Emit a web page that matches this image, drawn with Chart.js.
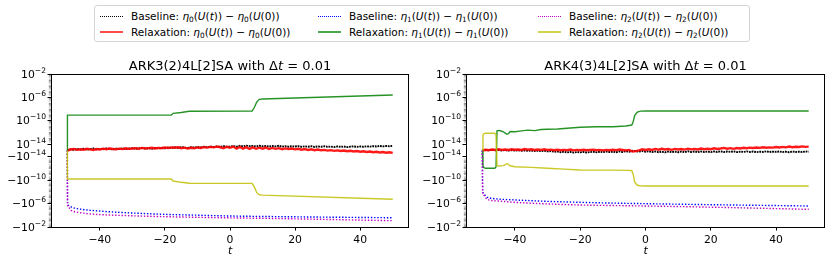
<!DOCTYPE html>
<html>
<head>
<meta charset="utf-8">
<script src="https://cdn.jsdelivr.net/npm/chart.js@4.4.1/dist/chart.umd.min.js"></script>
<style>
  body { margin: 0; background: #fff; }
  #fig { position: relative; width: 831px; height: 263px; overflow: hidden; font-family: "DejaVu Sans", sans-serif; }
  #left { position: absolute; left: 0; top: 0; }
  #right { position: absolute; left: 415px; top: 0; }
  #legend { position: absolute; left: 94px; top: 5px; width: 654px; height: 35px; border: 1px solid #d4d4d4; border-radius: 3px; background: #fff; font-size: 10.5px; color: #000; z-index: 2; }
  .item { position: absolute; white-space: nowrap; height: 14px; line-height: 14px; }
  .sw { display: inline-block; width: 23px; height: 0; vertical-align: middle; margin-right: 8px; position: relative; top: -1px; }
  i { font-style: italic; }
  sub { font-size: 0.7em; line-height: 0; vertical-align: -0.25em; }
</style>
</head>
<body>
<div id="fig">
  <div id="legend"></div>
  <canvas id="left" width="415" height="263"></canvas>
  <canvas id="right" width="416" height="263"></canvas>
</div>
<script>
// ---- data ----
// noisy series are sampled at t = -50..50 (step 1), values in units of 1e-15
const tNoise = Array.from({ length: 101 }, (_, i) => i - 50);

const leftBase0 = [0,
  2.0, 1.2, 2.5, 1.6, 2.8, 1.4, 2.2, 3.0, 1.8, 2.6,
  2.0, 3.1, 2.3, 1.7, 2.9, 2.4, 3.3, 2.1, 2.8, 3.5,
  2.6, 3.2, 4.0, 2.9, 3.6, 2.7, 3.9, 3.3, 4.2, 3.4,
  4.5, 3.8, 4.9, 4.1, 5.2, 4.4, 3.9, 5.0, 4.6, 5.5,
  4.8, 5.8, 5.1, 6.0, 5.4, 6.3, 5.6, 6.6, 5.9, 6.2,
  6.8, 5.9, 7.2, 6.4, 7.5, 6.7, 7.0, 6.2, 7.3, 6.6,
  7.0, 6.1, 6.9, 6.4, 7.2, 6.0, 6.7, 5.8, 6.5, 6.1,
  6.8, 5.7, 6.4, 5.9, 6.6, 5.5, 6.2, 5.8, 6.5, 5.6,
  6.0, 5.3, 6.3, 5.7, 6.1, 5.2, 5.9, 6.4, 5.6, 6.2,
  5.8, 6.5, 6.0, 6.8, 6.2, 7.0, 6.4, 6.9, 6.6, 7.1];
const leftRelax0 = [0,
  1.5, 2.4, 1.0, 2.0, 1.3, 2.6, 1.8, 0.9, 2.2, 1.6,
  2.8, 2.0, 3.0, 2.3, 1.7, 2.9, 2.2, 3.4, 2.6, 3.0,
  3.6, 2.8, 4.0, 3.1, 3.7, 4.3, 3.2, 4.0, 3.5, 4.6,
  3.9, 4.8, 4.2, 5.0, 3.6, 4.4, 3.0, 4.1, 3.4, 4.7,
  4.0, 5.2, 4.5, 5.6, 4.8, 5.9, 5.0, 3.5, 5.8, 4.2,
  6.0, 2.8, 5.6, 3.0, 5.2, 2.4, 4.8, 2.6, 4.4, 2.9,
  4.6, 2.2, 4.0, 2.5, 3.6, 2.0, 3.3, 2.3, 3.0, 1.8,
  2.6, 1.2, 2.2, 0.9, 1.8, 0.5, 1.4, 0.3, 1.0, -0.2,
  0.6, -0.5, 0.2, -0.8, -0.1, -1.2, -0.4, -1.5, -0.8, -1.9,
  -1.2, -2.3, -1.6, -2.7, -2.0, -3.0, -2.4, -3.4, -2.8, -3.6];
const rightBase0 = [0,
  0.8, 0.2, 1.0, 0.4, 0.9, 0.1, 0.6, -0.2, 0.5, 0.0,
  0.4, -0.3, 0.2, -0.6, 0.0, -0.8, -0.2, -1.0, -0.4, -1.3,
  -0.9, -2.0, -1.4, -2.6, -1.8, -2.9, -2.1, -3.2, -2.4, -2.9,
  -2.2, -3.0, -2.5, -2.0, -2.8, -1.9, -2.6, -1.6, -2.4, -1.8,
  -2.6, -1.5, -2.2, -1.0, -1.8, -0.4, -0.9, -1.7, -0.8, -1.9,
  -1.2, -2.3, -1.5, -2.6, -1.9, -2.8, -1.6, -2.5, -1.8, -2.7,
  -1.6, -2.4, -1.3, -2.2, -1.5, -2.6, -1.4, -2.3, -1.7, -2.5,
  -1.5, -2.2, -1.2, -2.4, -1.6, -2.1, -1.3, -2.5, -1.8, -2.2,
  -1.4, -2.3, -1.6, -2.5, -1.9, -2.2, -1.3, -2.4, -1.7, -2.1,
  -1.5, -2.3, -1.8, -2.6, -1.6, -2.2, -1.9, -2.4, -1.5, -2.0];
const rightRelax0 = [0,
  1.2, 0.6, 1.6, 0.8, 1.9, 1.0, 1.5, 0.7, 1.8, 1.1,
  1.6, 0.9, 2.2, 1.3, 1.8, 0.8, 1.5, 1.0, 1.9, 0.7,
  1.3, 0.5, 1.2, 0.3, 1.0, 0.6, 1.4, 0.2, 0.9, 0.4,
  1.1, 0.3, 0.8, 1.4, 0.5, 1.0, 0.2, 0.9, 0.4, 1.2,
  0.6, 1.5, 0.8, 0.2, 0.9, -1.5, -1.0, 0.3, 1.8, 0.8,
  1.9, 0.9, 2.4, 1.2, 2.6, 1.5, 2.2, 1.0, 2.5, 1.6,
  2.3, 1.4, 2.8, 1.8, 2.5, 1.6, 3.0, 2.0, 2.7, 1.9,
  3.4, 2.4, 3.1, 4.0, 2.8, 3.6, 2.6, 3.9, 3.2, 4.2,
  3.5, 4.4, 3.8, 4.7, 4.0, 5.0, 4.2, 4.8, 4.5, 5.3,
  4.6, 5.6, 4.9, 6.2, 5.0, 5.8, 5.4, 6.4, 5.6, 6.0];

// smooth series: own t samples and values
const leftBase1T = [-50, -49.9, -49.5, -49, -47, -44, -40, -30, -20, -10, 0, 20, 50];
const leftBase1 = [0, -8e-7, -2e-6, -3.3e-6, -7e-6, -1.2e-5, -1.9e-5, -4e-5, -6.8e-5, -9.5e-5, -1.3e-4, -1.8e-4, -2.6e-4];
const leftBase2T = [-50, -49.9, -49.5, -49, -47, -44, -40, -30, -20, -10, 0, 20, 50];
const leftBase2 = [0, -1.5e-6, -5e-6, -1.2e-5, -2.8e-5, -5e-5, -7.5e-5, -1.2e-4, -1.7e-4, -2.2e-4, -2.7e-4, -4e-4, -8.3e-4];
const leftRelax1T = [-50, -49.95, -18, -17.5, -15, -12.5, 6.8, 7.5, 8.2, 9, 10, 50];
const leftRelax1 = [0, 9e-10, 9.5e-10, 1.8e-9, 2.5e-9, 4.2e-9, 4.6e-9, 2e-8, 1.5e-7, 4.5e-7, 5.2e-7, 2.5e-6];
const leftRelax2T = [-50, -49.95, -18, -17.5, -15, -12.5, 6.8, 7.5, 8.2, 9, 10, 50];
const leftRelax2 = [0, -6e-11, -6e-11, -1.3e-10, -2.2e-10, -3.2e-10, -3.3e-10, -1.5e-9, -1.2e-8, -3e-8, -3.4e-8, -1.8e-7];

const rightBase1T = [-50, -49.9, -49.7, -49, -48, -45, -40, -30, -20, -10, 0, 20, 50];
const rightBase1 = [0, -5e-9, -1.5e-8, -5e-8, -9.5e-8, -1.6e-7, -2.3e-7, -4e-7, -5.9e-7, -8e-7, -1e-6, -1.5e-6, -2.5e-6];
const rightBase2T = [-50, -49.9, -49.7, -49, -48, -45, -40, -30, -20, -10, 0, 20, 50];
const rightBase2 = [0, -8e-9, -2.5e-8, -1e-7, -2.3e-7, -3.5e-7, -5.9e-7, -1.1e-6, -1.7e-6, -2.1e-6, -2.5e-6, -4e-6, -9.3e-6];
const rightRelax1T = [-50, -49.8, -49.5, -49, -46.2, -45.8, -45.5, -45, -44.5, -43.5, -42.5, -42, -41.5, -40, -38, -36, -34, -32, -30, -27, -24, -20, -15, -10, -6, -4.2, -3.8, -3.3, -2.5, -1.5, 0, 50];
const rightRelax1 = [0, -3e-13, -7e-13, -8.7e-13, -8.7e-13, -5e-13, 1.9e-12, 2.2e-12, 1.9e-12, 1.2e-12, 4.6e-13, 6e-13, 1.4e-12, 1.3e-12, 1.8e-12, 2.4e-12, 2e-12, 3e-12, 3.3e-12, 3.8e-12, 5e-12, 7.5e-12, 9e-12, 9.3e-12, 1.2e-11, 1.8e-11, 6e-11, 8e-10, 3e-9, 4.3e-9, 4.5e-9, 4.5e-9];
const rightRelax2T = [-50, -49.8, -49.5, -49, -46.2, -45.8, -45.5, -45, -43.5, -42.5, -42, -41.5, -40, -35, -30, -25, -20, -10, -5, -4.2, -3.8, -3.3, -2.5, -1.5, 0, 50];
const rightRelax2 = [0, 3e-13, 6e-13, 6.9e-13, 6.9e-13, 4e-13, -3.1e-13, -3.5e-13, -3e-13, -1.4e-13, -1.8e-13, -3.2e-13, -4.6e-13, -6e-13, -8.7e-13, -1.2e-12, -1.7e-12, -1.8e-12, -2e-12, -2.3e-12, -8e-12, -2e-10, -7e-10, -9e-10, -9.3e-10, -9.3e-10];

const xTicks = [-40, -20, 0, 20, 40];
const yMajorExp = [-2, -6, -10, -14];
const titles = ['ARK3(2)4L[2]SA', 'ARK4(3)4L[2]SA'];

// ---- symlog scale (linthresh 1e-14, linscale 1, like matplotlib) ----
const LINTHRESH = 1e-14;
const LINSCALE = 1 / (1 - 0.1);
function symT(v) {
  const a = Math.abs(v) / LINTHRESH;
  const u = a <= 1 ? a * LINSCALE : LINSCALE + Math.log10(a);
  return Math.sign(v) * u;
}
function symInv(u) {
  const a = Math.abs(u);
  const x = a <= LINSCALE ? a / LINSCALE : Math.pow(10, a - LINSCALE);
  return Math.sign(u) * x * LINTHRESH;
}
class SymlogScale extends Chart.LinearScale {
  static id = 'symlog';
  getPixelForValue(value) {
    const lo = symT(this.min), hi = symT(this.max);
    return this.getPixelForDecimal((symT(value) - lo) / (hi - lo));
  }
  getValueForPixel(pixel) {
    const lo = symT(this.min), hi = symT(this.max);
    return symInv(lo + this.getDecimalForPixel(pixel) * (hi - lo));
  }
}
Chart.register(SymlogScale);

const yMajor = [];
yMajorExp.forEach(e => { yMajor.push(Math.pow(10, e)); yMajor.push(-Math.pow(10, e)); });
const yMinor = [];
for (let e = -14; e <= -3; e++) {
  for (let k = 1; k <= 9; k++) {
    if (k === 1 && yMajorExp.includes(e)) continue;
    yMinor.push(k * Math.pow(10, e), -k * Math.pow(10, e));
  }
}

// ---- legend (html) ----
const legendItems = [
  { col: 0, row: 0, kind: 'Baseline', idx: 0, color: '#000000', dotted: true },
  { col: 0, row: 1, kind: 'Relaxation', idx: 0, color: 'rgba(255,0,0,0.7)', dotted: false },
  { col: 1, row: 0, kind: 'Baseline', idx: 1, color: '#0000ff', dotted: true },
  { col: 1, row: 1, kind: 'Relaxation', idx: 1, color: 'rgba(0,128,0,0.7)', dotted: false },
  { col: 2, row: 0, kind: 'Baseline', idx: 2, color: '#bf00bf', dotted: true },
  { col: 2, row: 1, kind: 'Relaxation', idx: 2, color: 'rgba(191,191,0,0.7)', dotted: false }
];
const colX = [5, 223, 443];
const rowY = [3, 19];
const legendEl = document.getElementById('legend');
legendItems.forEach(it => {
  const d = document.createElement('div');
  d.className = 'item';
  d.style.left = colX[it.col] + 'px';
  d.style.top = rowY[it.row] + 'px';
  const border = it.dotted ? '1.5px dotted ' + it.color : '2px solid ' + it.color;
  const n = it.idx;
  d.innerHTML = '<span class="sw" style="border-top:' + border + '"></span>' + it.kind +
    ': <i>η</i><sub>' + n + '</sub>(<i>U</i>(<i>t</i>)) − <i>η</i><sub>' + n + '</sub>(<i>U</i>(0))';
  legendEl.appendChild(d);
});

// ---- chart helpers ----
const FONT = '"DejaVu Sans", sans-serif';

function pts(ts, vs, unit) {
  return ts.map((t, i) => ({ x: t, y: vs[i] * (unit || 1) }));
}

const decorations = {
  id: 'decorations',
  afterDraw(chart, args, opts) {
    const ctx = chart.ctx, a = chart.chartArea, ys = chart.scales.y;
    ctx.save();
    // minor ticks on the y axis (dense, so they read as a grey band)
    ctx.strokeStyle = 'rgba(0,0,0,0.3)';
    ctx.lineWidth = 0.6;
    ctx.beginPath();
    yMinor.forEach(v => {
      const p = ys.getPixelForValue(v);
      ctx.moveTo(a.left - 2.2, p);
      ctx.lineTo(a.left, p);
    });
    ctx.stroke();
    // frame
    ctx.strokeStyle = '#000';
    ctx.lineWidth = 1;
    ctx.strokeRect(Math.round(a.left) + 0.5, Math.round(a.top) + 0.5,
      Math.round(a.right - a.left) - 1, Math.round(a.bottom - a.top));
    // y tick labels with superscripts
    ctx.fillStyle = '#000';
    ctx.textBaseline = 'alphabetic';
    yMajor.forEach(v => {
      const p = ys.getPixelForValue(v);
      const e = Math.round(Math.log10(Math.abs(v)));
      const base = (v < 0 ? '\u2212' : '') + '10';
      const sup = '\u2212' + Math.abs(e);
      ctx.font = '7.6px ' + FONT;
      const wSup = ctx.measureText(sup).width;
      ctx.font = '10.8px ' + FONT;
      const wBase = ctx.measureText(base).width;
      const right = a.left - 5;
      ctx.textAlign = 'left';
      ctx.fillText(base, right - wSup - wBase, p + 3.5);
      ctx.font = '7.6px ' + FONT;
      ctx.fillText(sup, right - wSup, p - 1.5);
    });
    // title with italic t
    const parts = [
      { s: opts.title + ' with \u0394', f: '13px ' + FONT },
      { s: 't', f: 'italic 13px ' + FONT },
      { s: ' = 0.01', f: '13px ' + FONT }
    ];
    let w = 0;
    parts.forEach(pt => { ctx.font = pt.f; pt.w = ctx.measureText(pt.s).width; w += pt.w; });
    let x = (a.left + a.right) / 2 - w / 2;
    parts.forEach(pt => { ctx.font = pt.f; ctx.fillText(pt.s, x, 69.5); x += pt.w; });
    ctx.restore();
  }
};

function makeChart(id, title, base0, relax0, base1T, base1, relax1T, relax1, base2T, base2, relax2T, relax2, padRight) {
  const ctx = document.getElementById(id).getContext('2d');
  return new Chart(ctx, {
    type: 'line',
    data: {
      datasets: [
        { data: pts(tNoise, base0, 1e-15), borderColor: '#000000', borderWidth: 1.9, borderDash: [1.8, 0.8], order: 6 },
        { data: pts(tNoise, relax0, 1e-15), borderColor: 'rgba(255,0,0,0.9)', borderWidth: 2.4, order: 5 },
        { data: pts(base1T, base1), borderColor: '#0000ff', borderWidth: 1.4, borderDash: [1.4, 1.8], cubicInterpolationMode: 'monotone', order: 4 },
        { data: pts(relax1T, relax1), borderColor: 'rgba(0,128,0,0.85)', borderWidth: 1.4, order: 3 },
        { data: pts(base2T, base2), borderColor: '#bf00bf', borderWidth: 1.4, borderDash: [1.4, 1.8], cubicInterpolationMode: 'monotone', order: 2 },
        { data: pts(relax2T, relax2), borderColor: 'rgba(191,191,0,0.85)', borderWidth: 1.4, order: 1 }
      ]
    },
    options: {
      responsive: false,
      animation: false,
      events: [],
      layout: { padding: { top: 74, right: padRight, bottom: 0, left: 0 } },
      elements: { point: { radius: 0 }, line: { tension: 0, fill: false } },
      plugins: {
        legend: { display: false },
        tooltip: { enabled: false },
        decorations: { title: title }
      },
      scales: {
        x: {
          type: 'linear',
          min: -55,
          max: 55,
          afterBuildTicks: s => { s.ticks = xTicks.map(v => ({ value: v })); },
          afterFit: s => { s.height = 36; },
          grid: { drawOnChartArea: false, drawTicks: true, tickLength: 3.5, color: '#000' },
          border: { display: false },
          ticks: {
            color: '#000',
            padding: 3,
            maxRotation: 0,
            autoSkip: false,
            font: { family: FONT, size: 10.8 },
            callback: v => String(v).replace('-', '\u2212')
          },
          title: { display: true, text: 't', color: '#000', font: { family: FONT, size: 10.8, style: 'italic' }, padding: { top: 0, bottom: 5 } }
        },
        y: {
          type: 'symlog',
          min: -1e-2,
          max: 1e-2,
          afterBuildTicks: s => { s.ticks = yMajor.map(v => ({ value: v })); },
          afterFit: s => { s.width = 51; },
          grid: { drawOnChartArea: false, drawTicks: true, tickLength: 3.5, color: '#000' },
          border: { display: false },
          ticks: { display: false }
        }
      }
    },
    plugins: [decorations]
  });
}

makeChart('left', titles[0], leftBase0, leftRelax0, leftBase1T, leftBase1, leftRelax1T, leftRelax1,
  leftBase2T, leftBase2, leftRelax2T, leftRelax2, 6);
makeChart('right', titles[1], rightBase0, rightRelax0, rightBase1T, rightBase1, rightRelax1T, rightRelax1,
  rightBase2T, rightBase2, rightRelax2T, rightRelax2, 6);
</script>
</body>
</html>
